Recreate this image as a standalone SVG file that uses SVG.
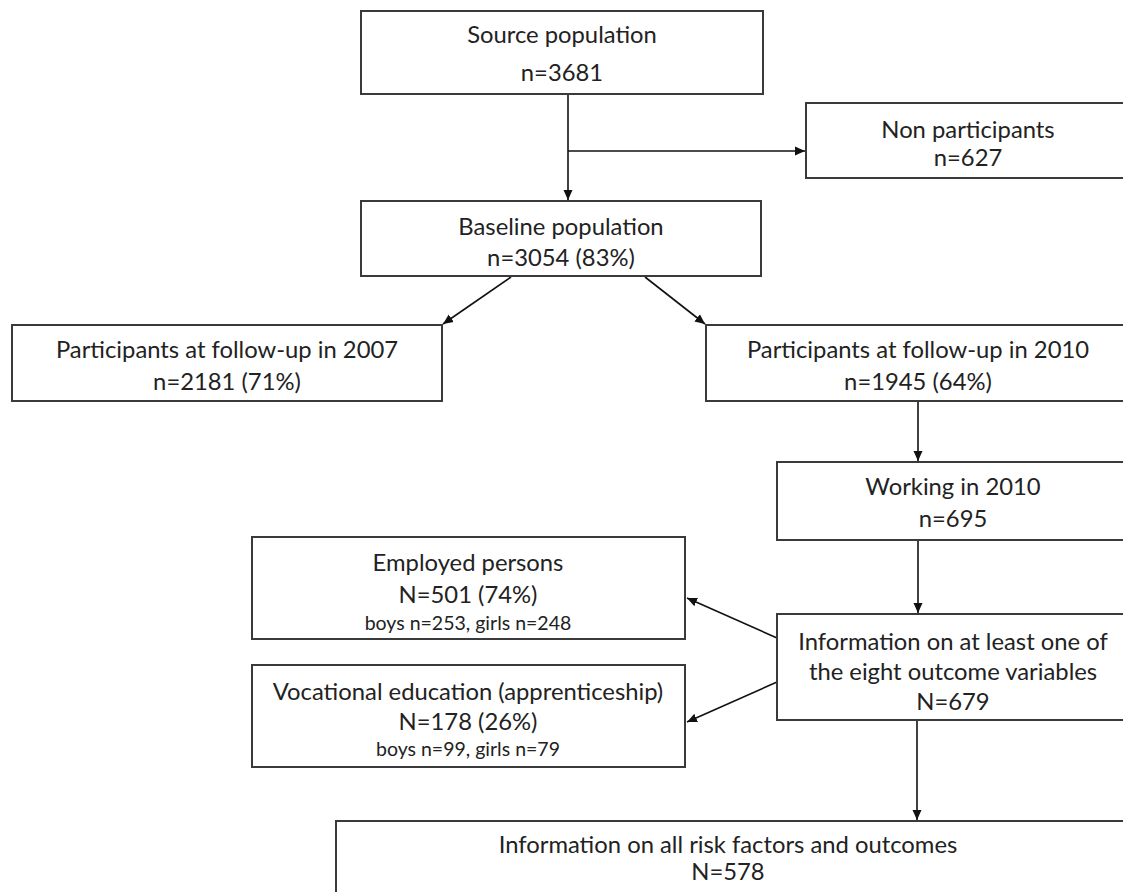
<svg xmlns="http://www.w3.org/2000/svg" width="1123" height="892" viewBox="0 0 1123 892">
  <defs>
    <marker id="arrow" viewBox="0 0 10 10" refX="10" refY="5" markerWidth="10" markerHeight="10" markerUnits="userSpaceOnUse" orient="auto">
      <path d="M0,0.5 L10,5 L0,9.5 Z" fill="#111"/>
    </marker>
    <style>
      .box { fill: #fff; stroke: #3a3a3a; stroke-width: 2; }
      .t { font-family: Lato, "Liberation Sans", sans-serif; font-size: 23.8px; fill: #222; text-anchor: middle; }
      .s { font-family: Lato, "Liberation Sans", sans-serif; font-size: 19.5px; fill: #222; text-anchor: middle; }
      .edge { fill: none; stroke: #111; stroke-width: 1.6; }
    </style>
  </defs>
  <rect width="1123" height="892" fill="#fff"/>

  <g id="connectors">
    <line class="edge" x1="568" y1="94" x2="568" y2="200" marker-end="url(#arrow)"/>
    <line class="edge" x1="568" y1="151" x2="805" y2="151" marker-end="url(#arrow)"/>
    <line class="edge" x1="511" y1="277" x2="443" y2="324" marker-end="url(#arrow)"/>
    <line class="edge" x1="645" y1="277" x2="705" y2="324" marker-end="url(#arrow)"/>
    <line class="edge" x1="918" y1="401" x2="918" y2="461" marker-end="url(#arrow)"/>
    <line class="edge" x1="918" y1="540" x2="918" y2="613" marker-end="url(#arrow)"/>
    <line class="edge" x1="777" y1="638" x2="687" y2="598" marker-end="url(#arrow)"/>
    <line class="edge" x1="777" y1="682" x2="687" y2="722" marker-end="url(#arrow)"/>
    <line class="edge" x1="917" y1="721" x2="917" y2="820" marker-end="url(#arrow)"/>
  </g>

  <g id="source">
    <rect class="box" x="361" y="11" width="402" height="83"/>
    <text class="t" x="562" y="43">Source population</text>
    <text class="t" x="562" y="81">n=3681</text>
  </g>

  <g id="nonparticipants">
    <rect class="box" x="806" y="103" width="324" height="75"/>
    <text class="t" x="968" y="138">Non participants</text>
    <text class="t" x="968" y="166">n=627</text>
  </g>

  <g id="baseline">
    <rect class="box" x="361" y="201" width="400" height="75"/>
    <text class="t" x="561" y="235">Baseline population</text>
    <text class="t" x="561" y="266">n=3054 (83%)</text>
  </g>

  <g id="followup2007">
    <rect class="box" x="12" y="325" width="430" height="76"/>
    <text class="t" x="227" y="358">Participants at follow-up in 2007</text>
    <text class="t" x="227" y="390">n=2181 (71%)</text>
  </g>

  <g id="followup2010">
    <rect class="box" x="706" y="325" width="424" height="76"/>
    <text class="t" x="918" y="358">Participants at follow-up in 2010</text>
    <text class="t" x="918" y="390">n=1945 (64%)</text>
  </g>

  <g id="working2010">
    <rect class="box" x="777" y="462" width="353" height="78"/>
    <text class="t" x="953" y="495">Working in 2010</text>
    <text class="t" x="953" y="527">n=695</text>
  </g>

  <g id="employed">
    <rect class="box" x="252" y="537" width="433" height="102"/>
    <text class="t" x="468" y="571">Employed persons</text>
    <text class="t" x="468" y="603">N=501 (74%)</text>
    <text class="s" x="468" y="630">boys n=253, girls n=248</text>
  </g>

  <g id="vocational">
    <rect class="box" x="252" y="665" width="433" height="102"/>
    <text class="t" x="468" y="700">Vocational education (apprenticeship)</text>
    <text class="t" x="468" y="730">N=178 (26%)</text>
    <text class="s" x="468" y="756">boys n=99, girls n=79</text>
  </g>

  <g id="outcomeinfo">
    <rect class="box" x="777" y="614" width="353" height="106"/>
    <text class="t" x="953" y="650">Information on at least one of</text>
    <text class="t" x="953" y="680">the eight outcome variables</text>
    <text class="t" x="953" y="710">N=679</text>
  </g>

  <g id="complete">
    <rect class="box" x="336" y="821" width="800" height="90"/>
    <text class="t" x="728" y="853">Information on all risk factors and outcomes</text>
    <text class="t" x="728" y="880">N=578</text>
  </g>
</svg>
